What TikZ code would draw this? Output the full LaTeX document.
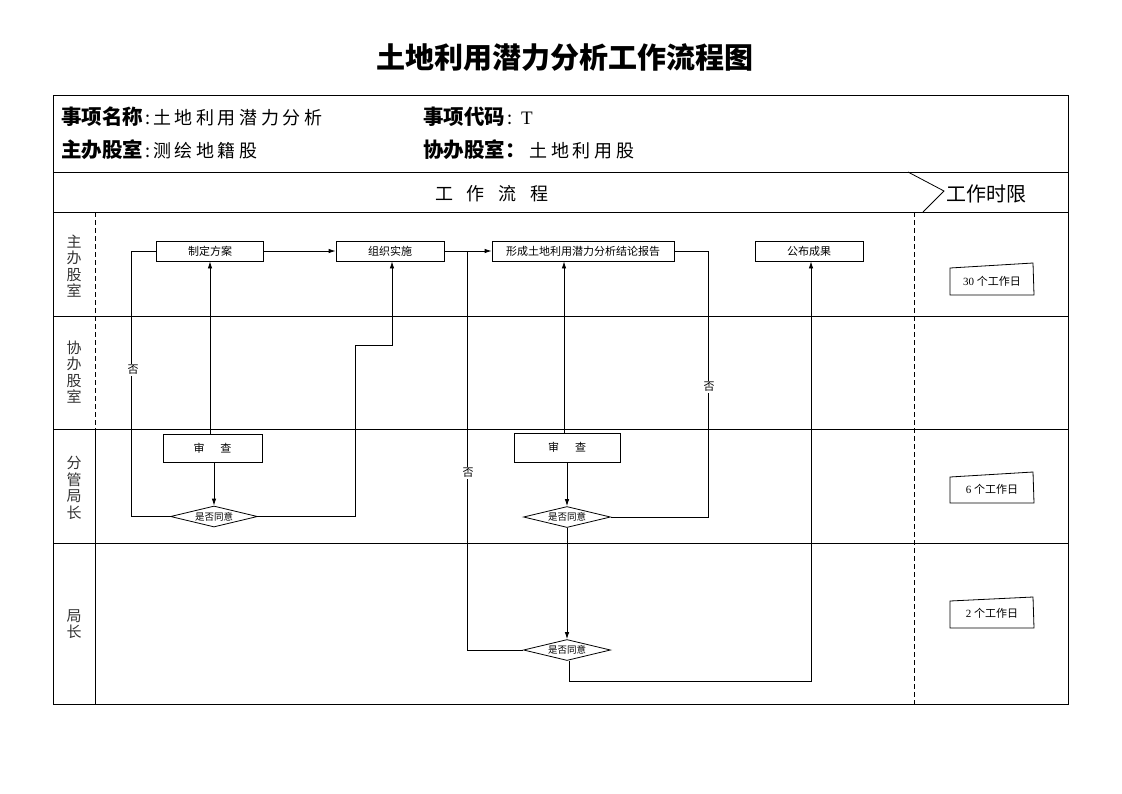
\documentclass[tikz,border=0pt]{standalone}
\usepackage{fontspec}
\setmainfont{Liberation Serif}
\newfontfamily\cjk{Noto Sans CJK SC}
\usetikzlibrary{arrows.meta,shapes.geometric}
\tikzset{
  ln/.style={line width=0.8pt},
  arr/.style={line width=0.8pt,-{Latex[length=7pt,width=4.5pt]}},
  box/.style={draw,line width=0.8pt,minimum height=20pt,inner sep=0pt,font=\cjk\fontsize{11}{11}\selectfont},
  dia/.style={draw,diamond,line width=0.8pt,shape aspect=4,inner sep=0pt,minimum width=87pt,minimum height=21pt,font=\cjk\fontsize{9.5}{9.5}\selectfont},
  lane/.style={align=center,font=\cjk\fontsize{15}{16.5}\selectfont,inner sep=0pt,text=black!80},
  lbl/.style={fill=white,inner sep=1pt,font=\cjk\fontsize{11}{11}\selectfont},
  tbox/.style={line width=0.8pt},
  ttext/.style={inner sep=0pt,font=\fontsize{11}{11}\selectfont},
  hb/.style={anchor=west,inner sep=0pt},
}
\newcommand{\hdrb}{\cjk\bfseries\fontsize{20.5}{20.5}\selectfont}
\newcommand{\hdrv}{\cjk\mdseries\fontsize{18}{18}\selectfont\addfontfeature{LetterSpace=20}}
\begin{document}
\begin{tikzpicture}[x=1pt,y=-1pt]
\useasboundingbox (0,0) rectangle (1122,793);
% title
\node (title) at (565,58) {\cjk\bfseries\fontsize{29}{29}\selectfont 土地利用潜力分析工作流程图};
% frame
\draw[ln] (53,95) rectangle (1068,704);
\draw[ln] (53,172) -- (1068,172);
\draw[ln] (53,212) -- (1068,212);
\draw[ln] (53,316) -- (1068,316);
\draw[ln] (53,429) -- (1068,429);
\draw[ln] (53,543) -- (1068,543);
\draw[ln] (908,172) -- (944,191) -- (923,212);
\draw[ln,dash pattern=on 5pt off 3pt] (95,212) -- (95,429);
\draw[ln] (95,429) -- (95,704);
\draw[ln,dash pattern=on 5pt off 3pt] (914,212) -- (914,704);
% header texts
\node[hb] (h1) at (61,117) {\hdrb 事项名称\hdrv\hspace{2pt}:\hspace{3pt}土地利用潜力分析};
\node[hb] (h2) at (61,150) {\hdrb 主办股室\hdrv\hspace{2pt}:\hspace{3pt}测绘地籍股};
\node[hb] (h3) at (423,117) {\hdrb 事项代码\hdrv\hspace{2pt}:\hspace{9pt}{\rmfamily\fontsize{19}{19}\selectfont T}};
\node[hb] (h4) at (423,150) {\hdrb 协办股室：\hdrv\hspace{4pt}土地利用股};
\node (flow) at (492,194) {\cjk\fontsize{18}{18}\selectfont 工\hspace{14pt}作\hspace{14pt}流\hspace{14pt}程};
\node[hb] (lim) at (946,194) {\cjk\fontsize{20}{20}\selectfont 工作时限};
% lane labels
\node[lane] (l1) at (74,266) {主\\办\\股\\室};
\node[lane] (l2) at (74,372) {协\\办\\股\\室};
\node[lane] (l3) at (74,488) {分\\管\\局\\长};
\node[lane] (l4) at (74,624) {局\\长};
% nodes
\node[box,minimum width=107pt] (plan) at (210,251) {制定方案};
\node[box,minimum width=108pt] (org) at (390,251) {组织实施};
\node[box,minimum width=182pt] (report) at (583,251) {形成土地利用潜力分析结论报告};
\node[box,minimum width=108pt] (pub) at (809,251) {公布成果};
\node[box,minimum width=99pt,minimum height=28pt] (rev1) at (212.5,448) {审\hspace{16pt}查};
\node[box,minimum width=106pt,minimum height=29pt] (rev2) at (567,447.5) {审\hspace{16pt}查};
\node[dia] (d1) at (214,516.5) {是否同意};
\node[dia] (d2) at (567,517) {是否同意};
\node[dia] (d3) at (567,650) {是否同意};
% connectors
\draw[arr] (plan) -- (org);
\draw[arr] (org) -- (report);
\coordinate (j1) at (467,251);
\draw[ln] (d3.west) -| (j1);
\node[lbl] (no3) at (468,473) {否};
\draw[arr] (plan.south |- rev1.north) -- (plan.south);
\draw[arr] (d1.north |- rev1.south) -- (d1.north);
\draw[ln] (d1.west) -- ++(-39,0) |- (plan.west);
\node[lbl] (no1) at (133,370) {否};
\coordinate (c2) at (355,345);
\draw[arr] (d1.east) -| (c2) -- ([xshift=2pt]org.south |- c2) -- ([xshift=2pt]org.south);
\draw[arr] ([xshift=-3pt]rev2.north) -- ([xshift=-3pt]rev2.north |- report.south);
\draw[arr] (rev2.south) -- (d2.north);
\draw[ln] (d2.east) -- ++(97.5,0) |- (report.east);
\node[lbl] (no2) at (709,387) {否};
\draw[arr] (d2.south) -- (d3.north);
\draw[arr] ([xshift=2pt]d3.south) -- ++(0,20) -| ([xshift=2pt]pub.south);
% time limits
\draw[tbox] (950,268) -- (1033,263) -- (1034,295) -- (950,295) -- cycle;
\node[ttext] (t1) at (992,281) {30 {\cjk 个工作日}};
\draw[tbox] (950,477) -- (1033,472) -- (1034,503) -- (950,503) -- cycle;
\node[ttext] (t2) at (992,489) {6 {\cjk 个工作日}};
\draw[tbox] (950,601) -- (1033,597) -- (1034,628) -- (950,628) -- cycle;
\node[ttext] (t3) at (992,613) {2 {\cjk 个工作日}};
\end{tikzpicture}
\end{document}
